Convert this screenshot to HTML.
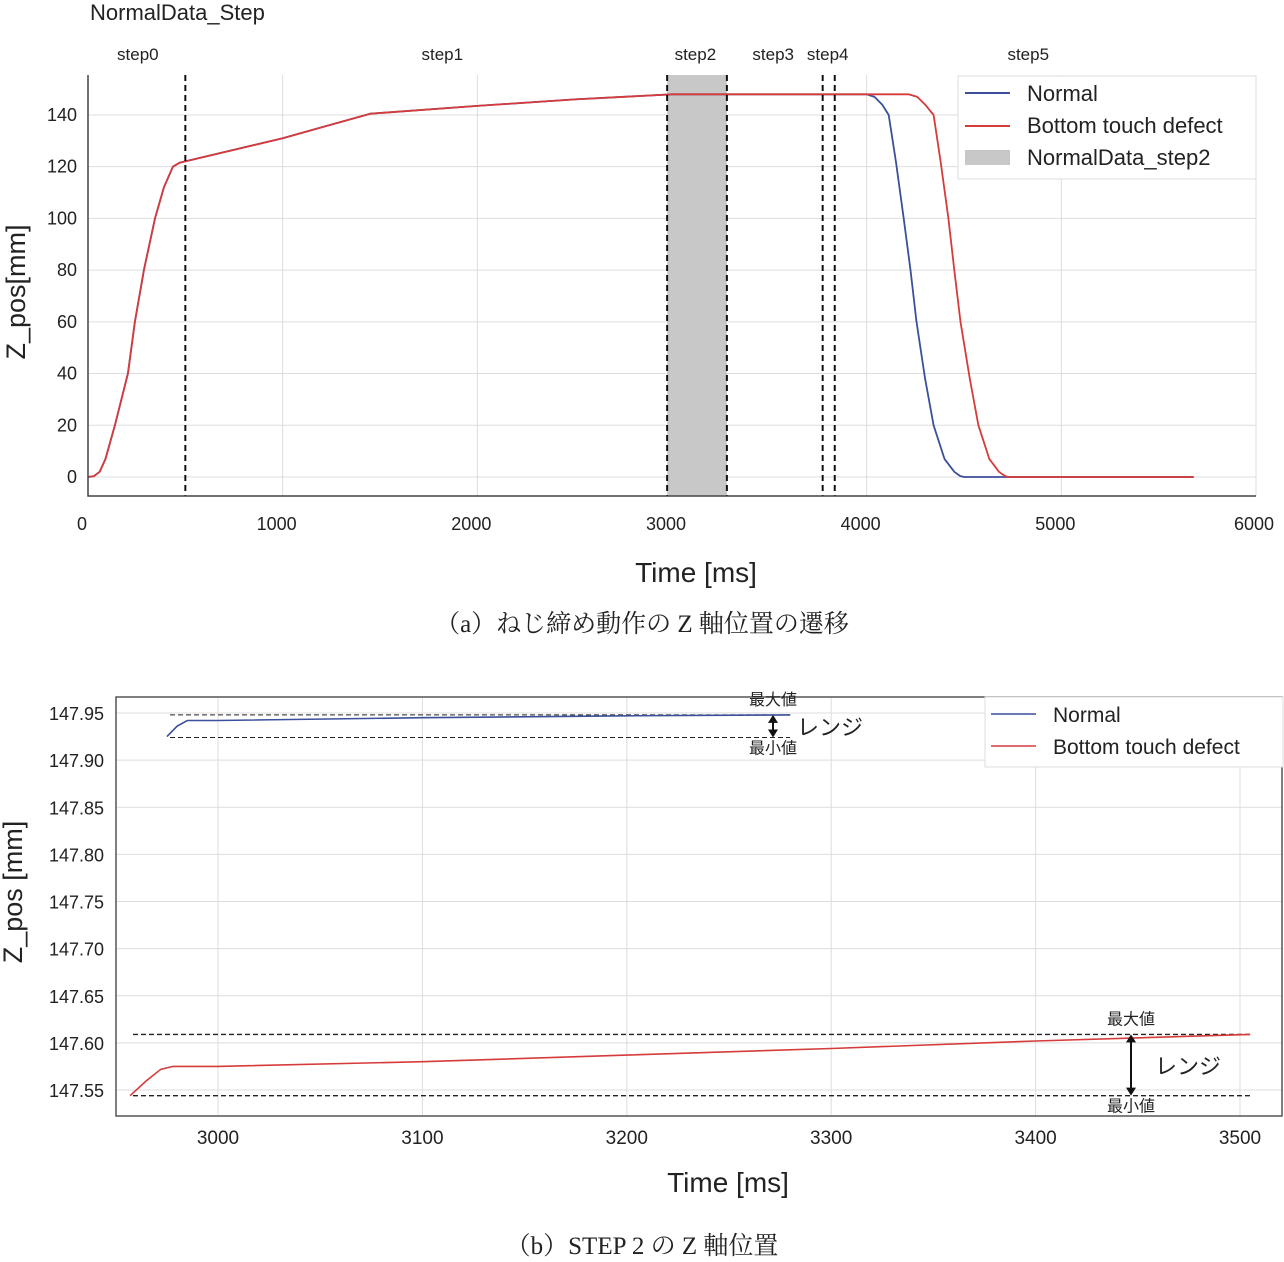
<!DOCTYPE html>
<html><head><meta charset="utf-8">
<style>
html,body{margin:0;padding:0;background:#fff;}
body{width:1284px;height:1256px;overflow:hidden;position:relative;font-family:"Liberation Sans","Noto Sans CJK JP",sans-serif;}
svg{position:absolute;left:0;top:0;}
.cap{position:absolute;left:0;width:1284px;text-align:center;font-family:"Liberation Serif","Noto Serif CJK SC",serif;font-size:25px;color:#222;}
</style></head>
<body>
<svg id="chart" width="1284" height="1256" xmlns="http://www.w3.org/2000/svg"></svg>
<div class="cap" style="top:604px">（a）ねじ締め動作の Z 軸位置の遷移</div>
<div class="cap" style="top:1226px">（b）STEP 2 の Z 軸位置</div>
<script>
// ---- Chart (a) data ----
const aXTicks = [0,1000,2000,3000,4000,5000,6000];
const aYTicks = [0,20,40,60,80,100,120,140];
const aNormalT = [0,30,60,90,138,205,241,287,344,390,436,470,497,1000,1450,2000,2500,3000,3500,4000,4040,4080,4113,4150,4190,4225,4256,4300,4344,4400,4450,4480,4500,5000,5680];
const aNormalZ = [0,0.3,2,7,20,40,60,80,100,112,120,121.5,122,131,140.5,143.5,146,148,148,148,147,144,140,122,100,80,60,38,20,7,2,0.4,0,0,0];
const aDefectT = [0,30,60,90,138,205,241,287,344,390,436,470,497,1000,1450,2000,2500,3000,3500,4000,4215,4260,4300,4344,4380,4420,4450,4482,4530,4574,4630,4680,4710,4728,5000,5680];
const aDefectZ = [0,0.3,2,7,20,40,60,80,100,112,120,121.5,122,131,140.5,143.5,146,148,148,148,148,147,144,140,122,100,80,60,38,20,7,2,0.4,0,0,0];
const aStepLines = [500,2975,3282,3774,3836];
const aStepNames = ["step0","step1","step2","step3","step4","step5"];
const aStepLabelT = [256,1820,3120,3520,3800,4830];
const aShade = [2975,3282];
// ---- Chart (b) data ----
const bXTicks = [3000,3100,3200,3300,3400,3500];
const bYTicks = [147.55,147.60,147.65,147.70,147.75,147.80,147.85,147.90,147.95];
const bNormalT = [2975,2980,2985,3000,3100,3200,3280];
const bNormalZ = [147.925,147.936,147.942,147.942,147.945,147.947,147.948];
const bDefectT = [2957,2965,2972,2978,3000,3100,3200,3300,3400,3505];
const bDefectZ = [147.544,147.560,147.572,147.575,147.575,147.580,147.587,147.594,147.602,147.609];
const bNormalRange = [147.924,147.948];
const bDefectRange = [147.544,147.609];

const NS="http://www.w3.org/2000/svg";
const svg=document.getElementById('chart');
function el(tag,attrs,parent){const e=document.createElementNS(NS,tag);for(const k in attrs)e.setAttribute(k,attrs[k]);(parent||svg).appendChild(e);return e;}
function txt(s,x,y,size,anchor,parent,extra){const t=el('text',Object.assign({x:x,y:y,'font-size':size,'text-anchor':anchor||'middle',fill:'#222','font-family':'"Liberation Sans","Noto Sans CJK JP",sans-serif'},extra||{}),parent);t.textContent=s;return t;}
function path(T,Z,sx,sy){return T.map((t,i)=>(i?'L':'M')+sx(t).toFixed(1)+','+sy(Z[i]).toFixed(1)).join(' ');}

// ===== Chart A =====
const A={l:88,r:1256,t:75,b:496};
const axA=v=>A.l+(v-0)/6000*(A.r-A.l);
const ayA=v=>477+(0-v)*2.586;
const gA=el('g',{});


txt('NormalData_Step',90,20,22,'start',gA);
aXTicks.forEach(v=>{const l=el('line',{x1:axA(v),x2:axA(v),y1:A.t,y2:A.b,stroke:'#ddd','stroke-width':1},gA);
 const t=txt(String(v),axA(v)-(v===0?6:(v===6000?2:6)),530,18,'middle',gA);});
aYTicks.forEach(v=>{const l=el('line',{x1:A.l,x2:A.r,y1:ayA(v),y2:ayA(v),stroke:'#ddd','stroke-width':1},gA);
 const t=txt(String(v),77,ayA(v)+6,18,'end',gA);});
const sh=el('rect',{x:axA(aShade[0]),y:A.t,width:axA(aShade[1])-axA(aShade[0]),height:A.b-A.t,fill:'#c8c8c8'},gA);

const pn=el('path',{d:path(aNormalT,aNormalZ,axA,ayA),fill:'none',stroke:'#3b4f9a','stroke-width':1.8,'stroke-linejoin':'round'},gA);

const pd=el('path',{d:path(aDefectT,aDefectZ,axA,ayA),fill:'none',stroke:'#d63b3b','stroke-width':1.8,'stroke-linejoin':'round'},gA);

aStepLines.forEach(v=>{const l=el('line',{x1:axA(v),x2:axA(v),y1:A.t,y2:A.b,stroke:'#111','stroke-width':2,'stroke-dasharray':'6,4'},gA);});
aStepNames.forEach((s,i)=>{const t=txt(s,axA(aStepLabelT[i]),60,17,'middle',gA);});
const fa=el('path',{d:`M${A.l},${A.t} V${A.b} H${A.r}`,fill:'none',stroke:'#444','stroke-width':1.5},gA);

const ta=txt('Z_pos[mm]',25,292,27,'middle',gA,{transform:'rotate(-90 25 292)'});
const xa=txt('Time [ms]',696,582,28,'middle',gA);
// legend A
const lgA=el('g',{},gA);


el('rect',{x:958,y:76,width:298,height:103,fill:'#fff',stroke:'#ddd'},lgA);
el('line',{x1:965,x2:1010,y1:93,y2:93,stroke:'#3b4f9a','stroke-width':2},lgA);
txt('Normal',1027,101,22,'start',lgA);
el('line',{x1:965,x2:1010,y1:126,y2:126,stroke:'#d63b3b','stroke-width':2},lgA);
txt('Bottom touch defect',1027,133,22,'start',lgA);
el('rect',{x:965,y:150,width:45,height:15,fill:'#c8c8c8'},lgA);
txt('NormalData_step2',1027,165,22,'start',lgA);

// ===== Chart B =====
const B={l:116,r:1283,t:697,b:1116};
const axB=v=>218+(v-3000)*2.044;
const ayB=v=>713+(147.95-v)*942.5;
const gB=el('g',{});


bXTicks.forEach(v=>{const l=el('line',{x1:axB(v),x2:axB(v),y1:B.t,y2:B.b,stroke:'#ddd','stroke-width':1},gB);
 const t=txt(String(v),axB(v),1144,19,'middle',gB);});
bYTicks.forEach(v=>{const l=el('line',{x1:B.l,x2:B.r,y1:ayB(v),y2:ayB(v),stroke:'#ddd','stroke-width':1},gB);
 const t=txt(v.toFixed(2),104,ayB(v)+7,18,'end',gB);});
[[bNormalRange,170,790,1],[bDefectRange,133,1250,1.4]].forEach(([r,x1,x2,w])=>{
 r.forEach(v=>{const l=el('line',{x1:x1,x2:x2,y1:ayB(v),y2:ayB(v),stroke:'#222','stroke-width':w,'stroke-dasharray':'5,3'},gB);});});
const pnb=el('path',{d:path(bNormalT,bNormalZ,axB,ayB),fill:'none',stroke:'#3b4f9a','stroke-width':1.6},gB);

const pdb=el('path',{d:path(bDefectT,bDefectZ,axB,ayB),fill:'none',stroke:'#d63b3b','stroke-width':1.6},gB);

const fb=el('rect',{x:B.l,y:B.t,width:B.r-B.l-1,height:B.b-B.t,fill:'none',stroke:'#555','stroke-width':1.5},gB);

function ann(r,x){
 const y1=ayB(r[1]),y2=ayB(r[0]);
 const a=el('g',{},gB);
 el('line',{x1:x,x2:x,y1:y1+6,y2:y2-6,stroke:'#111','stroke-width':2},a);
 el('path',{d:`M${x-5},${y1+8} L${x},${y1} L${x+5},${y1+8}Z M${x-5},${y2-8} L${x},${y2} L${x+5},${y2-8}Z`,fill:'#111'},a);
 txt('最大値',x,y1-10,16,'middle',a);
 txt('最小値',x,y2+16,16,'middle',a);
 txt('レンジ',x+57,(y1+y2)/2+9,22,'middle',a);
}
ann(bNormalRange,773);
ann(bDefectRange,1131);
const tb=txt('Z_pos [mm]',22,892,27,'middle',gB,{transform:'rotate(-90 22 892)'});
const xb=txt('Time [ms]',728,1192,28,'middle',gB);
const lgB=el('g',{},gB);


el('rect',{x:985,y:697,width:298,height:70,fill:'#fff',stroke:'#ddd'},lgB);
el('line',{x1:991,x2:1036,y1:714,y2:714,stroke:'#3b4f9a','stroke-width':1.5},lgB);
txt('Normal',1053,722,21,'start',lgB);
el('line',{x1:991,x2:1036,y1:746,y2:746,stroke:'#d63b3b','stroke-width':1.5},lgB);
txt('Bottom touch defect',1053,754,21,'start',lgB);
</script>
</body></html>
